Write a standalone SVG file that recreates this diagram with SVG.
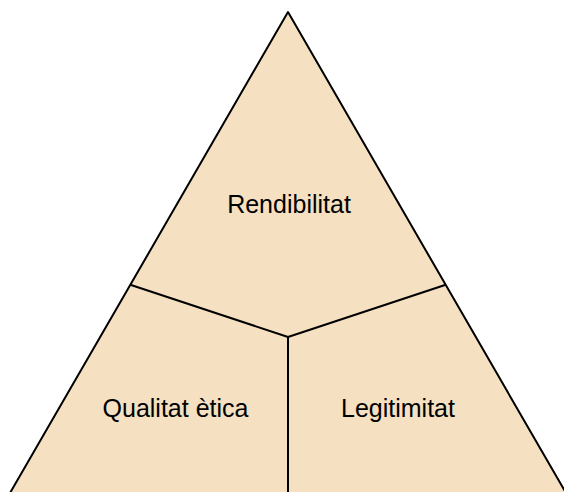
<svg xmlns="http://www.w3.org/2000/svg" width="564" height="492" viewBox="0 0 564 492">
<style>
.reg{fill:#F5E0C2;stroke:none}
.ln{fill:none;stroke:#000;stroke-width:2;stroke-linecap:round;stroke-linejoin:round}
.lbl{font-family:"Liberation Sans",Arial,sans-serif;font-size:25px;fill:#000;text-anchor:middle}
</style>
<rect width="564" height="492" fill="#fff"/>
<g id="top">
<path class="reg" d="M288,12 L131,285 L288,337 L445,285 Z"/>
<text class="lbl" x="289" y="213">Rendibilitat</text>
</g>
<g id="left">
<path class="reg" d="M131,285 L288,337 L288,492 L10,492 Z"/>
<text class="lbl" x="175.5" y="417">Qualitat ètica</text>
</g>
<g id="right">
<path class="reg" d="M445,285 L288,337 L288,492 L566,492 Z"/>
<text class="lbl" x="398" y="417">Legitimitat</text>
</g>
<g id="connectors">
<path class="ln" d="M10,493 L288,12 L566,493"/>
<path class="ln" d="M131,285 L288,337 L445,285"/>
<path class="ln" d="M288,337 L288,493"/>
</g>
</svg>
